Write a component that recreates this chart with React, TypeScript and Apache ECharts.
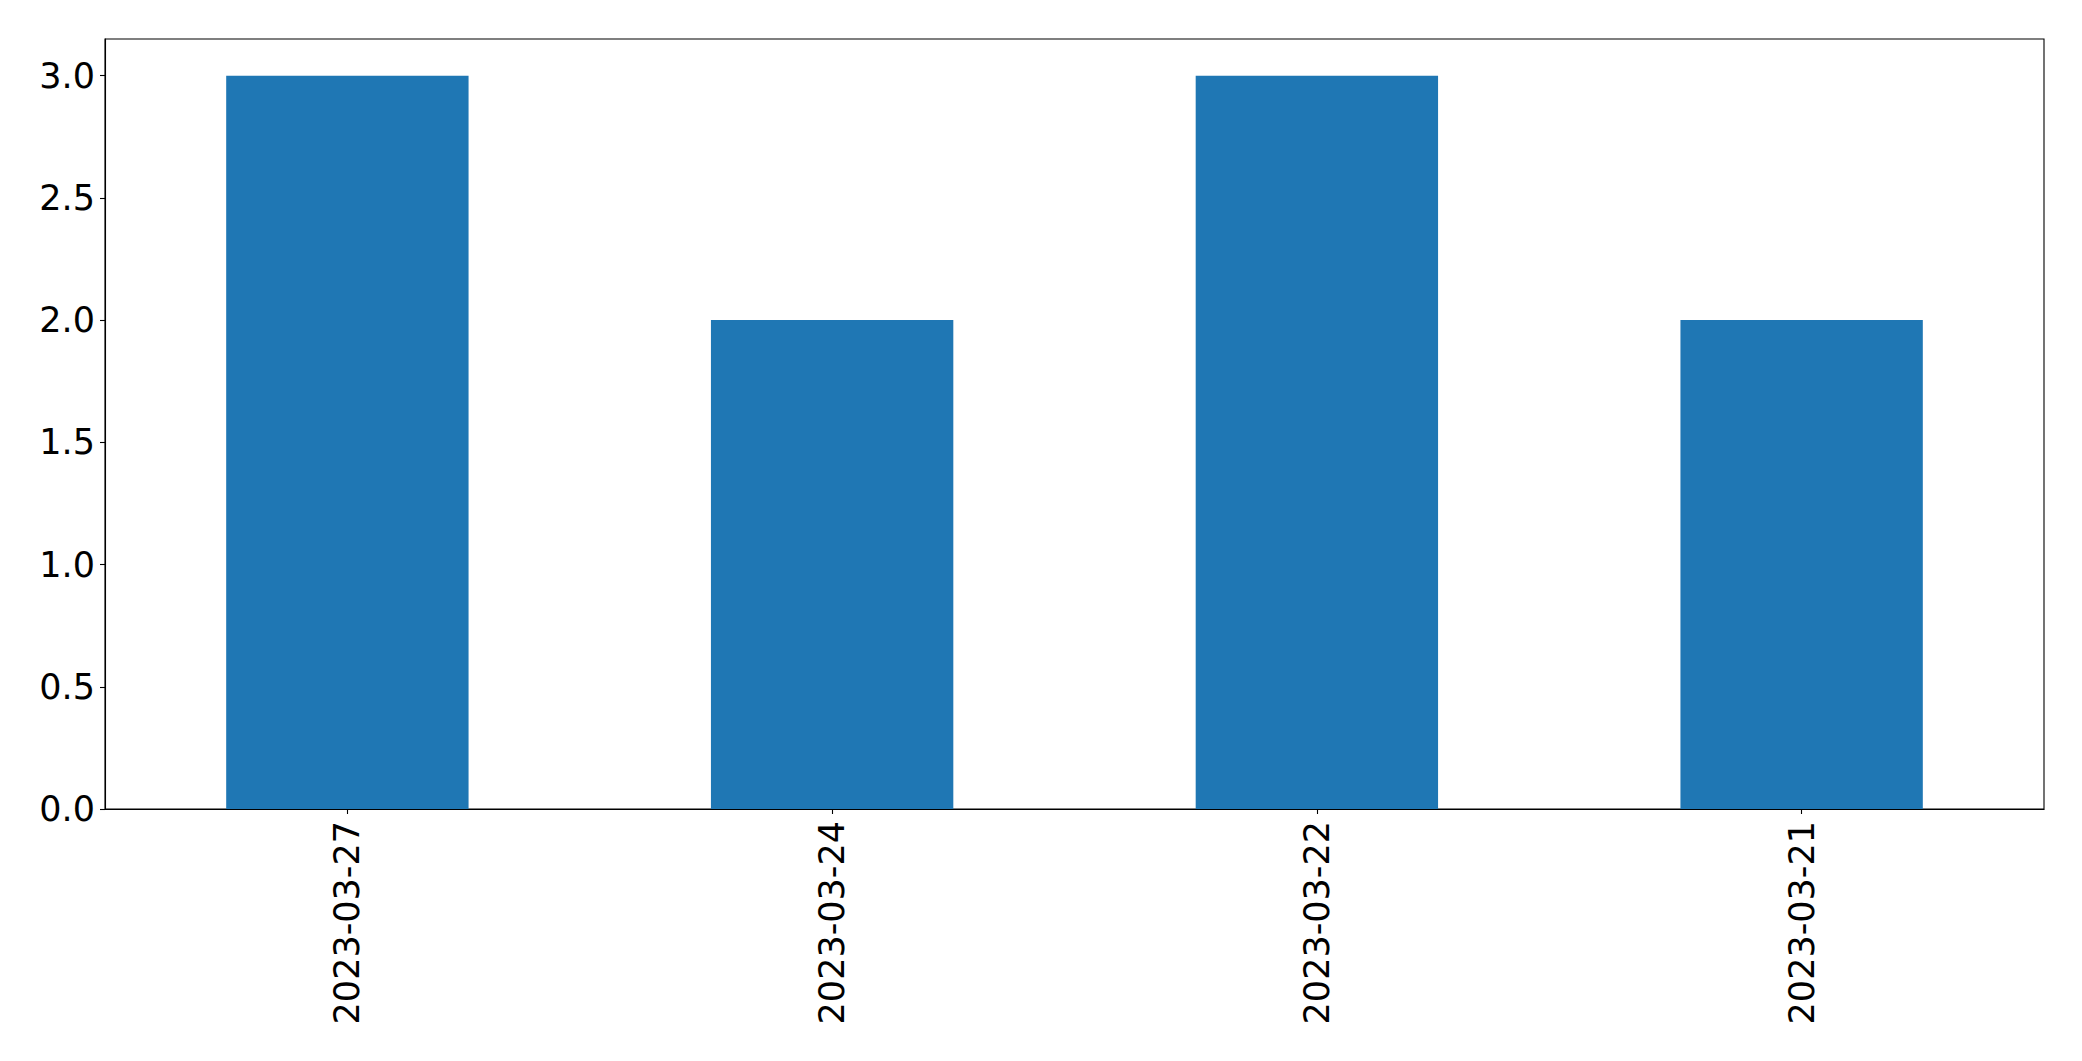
import React, { useEffect, useRef } from "react";
import * as echarts from "echarts";

const categories = ["2023-03-27", "2023-03-24", "2023-03-22", "2023-03-21"];
const values = [3, 2, 3, 2];
const yTicks = [0, 0.5, 1.0, 1.5, 2.0, 2.5, 3.0];

export default function App() {
  const ref = useRef<HTMLDivElement>(null);
  useEffect(() => {
    document.body.style.margin = "0";
    const chart = echarts.init(ref.current!, undefined, { renderer: "svg" });
    const font = "DejaVu Sans";
    chart.setOption({
      animation: false,
      backgroundColor: "#ffffff",
      grid: {
        left: 105,
        right: 38,
        top: 39,
        bottom: 252,
        show: true,
        borderColor: "#000000",
        borderWidth: 1.1,
        backgroundColor: "transparent",
      },
      xAxis: {
        type: "category",
        data: categories,
        boundaryGap: true,
        axisLine: { show: true, lineStyle: { color: "#000000", width: 1.1 } },
        axisTick: { show: true, alignWithLabel: true, length: 5, lineStyle: { color: "#000000", width: 1.1 } },
        axisLabel: {
          rotate: 90,
          margin: 12,
          color: "#000000",
          fontSize: 35,
          fontFamily: font,
        },
        splitLine: { show: false },
      },
      yAxis: {
        type: "value",
        min: 0,
        max: 3.15,
        interval: 0.5,
        axisLine: { show: true, lineStyle: { color: "#000000", width: 1.1 } },
        axisTick: {
          show: true,
          length: 5,
          customValues: yTicks,
          lineStyle: { color: "#000000", width: 1.1 },
        },
        axisLabel: {
          margin: 10,
          color: "#000000",
          fontSize: 35,
          fontFamily: font,
          customValues: yTicks,
          formatter: (v: number) => v.toFixed(1),
        },
        splitLine: { show: false },
      },
      series: [
        {
          type: "bar",
          data: values,
          barWidth: "50%",
          itemStyle: { color: "#1f77b4" },
        },
      ],
    });
    return () => chart.dispose();
  }, []);
  return <div ref={ref} style={{ position: "absolute", left: 0, top: 0, width: 2082, height: 1061 }} />;
}
